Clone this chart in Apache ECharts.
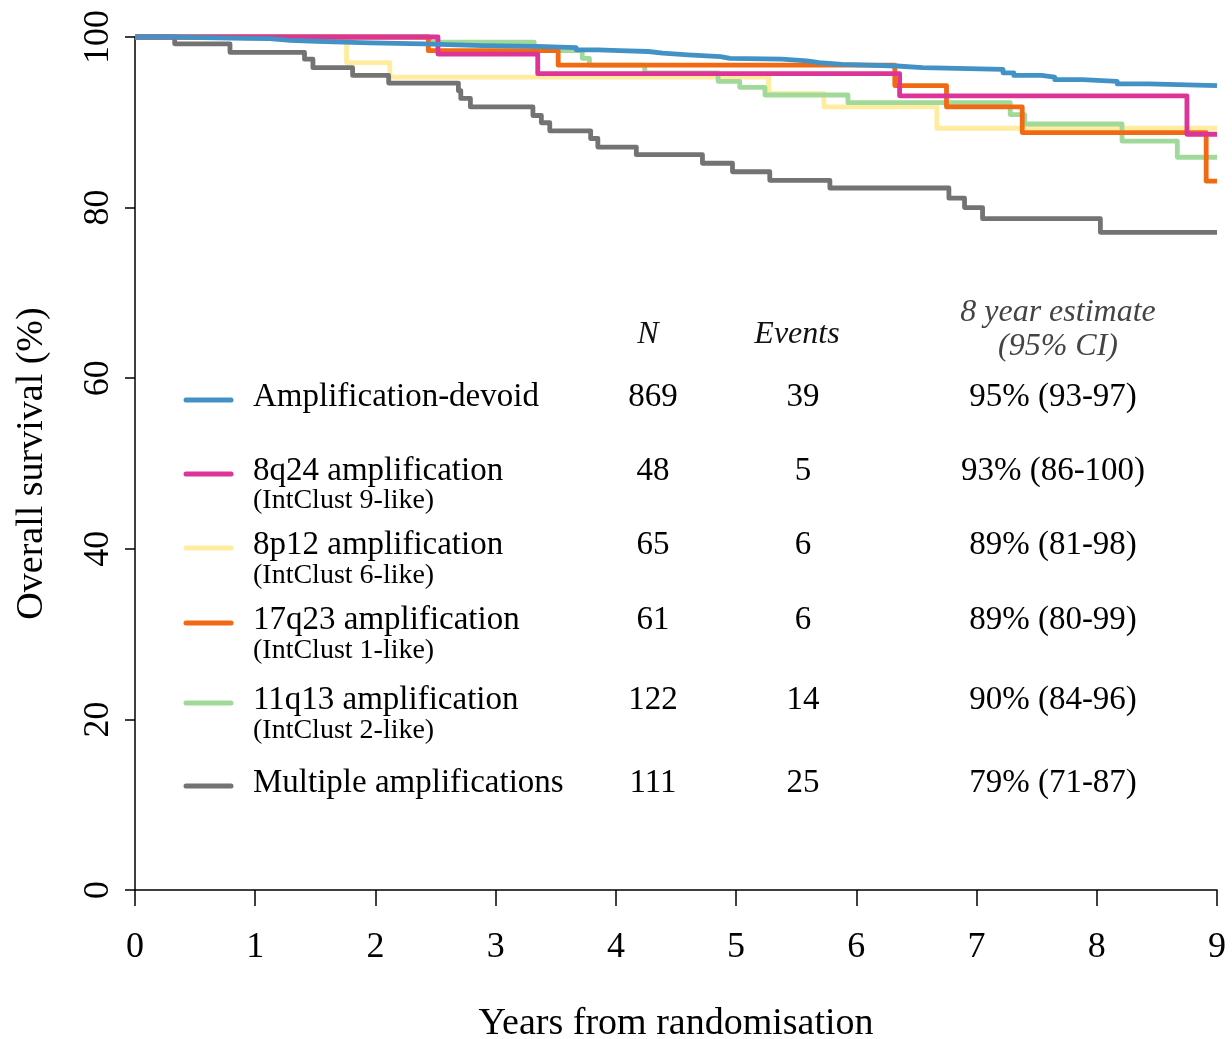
<!DOCTYPE html>
<html>
<head>
<meta charset="utf-8">
<script src="https://cdn.jsdelivr.net/npm/echarts@6/dist/echarts.min.js"></script>
<style>
html,body{margin:0;padding:0;background:#fff;}
#chart{width:1232px;height:1039px;}
</style>
</head>
<body>
<div id="chart"></div>
<script>
// ---- data (years, overall survival %) ----
const devoid = [[0,100],[0.32,99.9],[0.69,99.85],[0.93,99.8],[1.12,99.6],[1.29,99.5],[1.51,99.4],[1.73,99.3],[1.96,99.2],[2.40,99.0],[2.89,98.9],[3.34,98.75],[3.67,98.5],[3.85,98.4],[4.03,98.3],[4.27,98.1],[4.39,97.9],[4.60,97.7],[4.87,97.5],[4.95,97.4],[5.38,97.2],[5.59,97.0],[5.69,96.8],[5.88,96.6],[6.34,96.4],[6.55,96.2],[7.22,95.8],[7.31,95.5],[7.54,95.3],[7.65,95.0],[7.88,94.8],[8.17,94.5],[8.43,94.3],[9,94.3]];
const amp8q24 = [[0,100],[2.52,98.0],[3.35,95.7],[6.36,93.1],[8.75,88.6],[9,88.6]];
const amp8p12 = [[0,100],[1.76,97.0],[2.12,95.3],[5.27,93.4],[5.73,91.8],[6.67,89.3],[9,89.3]];
const amp17q23 = [[0,100],[2.44,98.4],[3.52,96.7],[6.32,94.3],[6.75,91.8],[7.38,88.8],[8.91,83.1],[9,83.1]];
const amp11q13 = [[0,100],[2.45,99.4],[3.32,98.4],[3.72,97.5],[3.78,96.7],[4.24,95.8],[4.85,94.8],[5.03,94.1],[5.24,93.2],[5.93,92.3],[7.28,90.9],[7.40,89.8],[8.21,87.8],[8.67,85.9],[9,85.9]];
const multiple = [[0,100],[0.33,99.2],[0.79,98.2],[1.41,97.4],[1.48,96.4],[1.81,95.5],[2.11,94.6],[2.69,93.7],[2.71,92.8],[2.79,91.8],[3.31,90.8],[3.38,89.95],[3.45,89.0],[3.79,88.1],[3.85,87.1],[4.17,86.2],[4.72,85.2],[4.97,84.2],[5.28,83.2],[5.78,82.3],[6.77,81.1],[6.90,80.0],[7.05,78.7],[8.03,77.1],[9,77.1]];

const xTicks = [0,1,2,3,4,5,6,7,8,9];
const yTicks = [0,20,40,60,80,100];

const groupNames = ['Amplification-devoid','8q24 amplification','8p12 amplification','17q23 amplification','11q13 amplification','Multiple amplifications'];
const groupSubs = ['','(IntClust 9-like)','(IntClust 6-like)','(IntClust 1-like)','(IntClust 2-like)',''];
const groupN = [869,48,65,61,122,111];
const groupEvents = [39,5,6,6,14,25];
const groupEstimates = ['95% (93-97)','93% (86-100)','89% (81-98)','89% (80-99)','90% (84-96)','79% (71-87)'];
const headers = ['N','Events','8 year estimate','(95% CI)'];

// ---- styles ----
const colors = ['#4292C6','#DD3497','#FFEC9E','#F16913','#A1D99B','#737373'];
const seriesData = [devoid, amp8q24, amp8p12, amp17q23, amp11q13, multiple];
const drawOrder = [2,4,5,3,1,0]; // bottom -> top
const FONT = '"Liberation Serif","Times New Roman",serif';

const rowY = [397, 471, 545, 620, 700, 783];
const subY = [null, 501, 576, 651, 731, null];

const chart = echarts.init(document.getElementById('chart'), null, {renderer:'canvas'});

const series = drawOrder.map(i => ({
  name: groupNames[i],
  type: 'line',
  step: 'end',
  data: seriesData[i],
  showSymbol: false,
  clip: false,
  lineStyle: {color: colors[i], width: 4.8, join: 'round', cap: 'butt'},
  itemStyle: {color: colors[i]},
  emphasis: {disabled: true}
}));

const graphics = [];
groupNames.forEach((g, i) => {
  graphics.push({type:'line', shape:{x1:186, y1:rowY[i]+3, x2:231, y2:rowY[i]+3},
    style:{stroke: colors[i], lineWidth: 5, lineCap:'round'}});
  graphics.push({type:'text', style:{text:g, x:253, y:rowY[i], fill:'#000', fontSize:33, fontFamily:FONT, align:'left', verticalAlign:'middle'}});
  if (groupSubs[i]) {
    graphics.push({type:'text', style:{text:groupSubs[i], x:253, y:subY[i], fill:'#000', fontSize:28, fontFamily:FONT, align:'left', verticalAlign:'middle'}});
  }
  graphics.push({type:'text', style:{text:String(groupN[i]), x:653, y:rowY[i], fill:'#000', fontSize:33, fontFamily:FONT, align:'center', verticalAlign:'middle'}});
  graphics.push({type:'text', style:{text:String(groupEvents[i]), x:803, y:rowY[i], fill:'#000', fontSize:33, fontFamily:FONT, align:'center', verticalAlign:'middle'}});
  graphics.push({type:'text', style:{text:groupEstimates[i], x:1053, y:rowY[i], fill:'#000', fontSize:33, fontFamily:FONT, align:'center', verticalAlign:'middle'}});
});
graphics.push({type:'text', style:{text:headers[0], x:648, y:335, fill:'#111', fontSize:32, fontStyle:'italic', fontFamily:FONT, align:'center', verticalAlign:'middle'}});
graphics.push({type:'text', style:{text:headers[1], x:797, y:335, fill:'#111', fontSize:32, fontStyle:'italic', fontFamily:FONT, align:'center', verticalAlign:'middle'}});
graphics.push({type:'text', style:{text:headers[2], x:1058, y:313, fill:'#444', fontSize:32, fontStyle:'italic', fontFamily:FONT, align:'center', verticalAlign:'middle'}});
graphics.push({type:'text', style:{text:headers[3], x:1058, y:347, fill:'#444', fontSize:32, fontStyle:'italic', fontFamily:FONT, align:'center', verticalAlign:'middle'}});

chart.setOption({
  animation: false,
  backgroundColor: '#fff',
  grid: {left:135, right:15, top:37, bottom:149, containLabel:false, outerBoundsMode:'none'},
  xAxis: {
    type:'value', min:0, max:9, interval:1,
    name:'Years from randomisation', nameLocation:'middle', nameGap:115,
    nameTextStyle:{color:'#000', fontSize:38, fontFamily:FONT},
    axisLine:{show:true, lineStyle:{color:'#000', width:1.5}},
    axisTick: {show:true, length:16, customValues: xTicks, lineStyle:{color:'#000', width:1.5}},
    axisLabel:{color:'#000', fontSize:36, fontFamily:FONT, margin:40,
      customValues: xTicks, formatter: v => String(v)},
    splitLine:{show:false}
  },
  yAxis: {
    type:'value', min:0, max:100, interval:20,
    name:'Overall survival (%)', nameLocation:'middle', nameGap:84, nameRotate:90,
    nameTextStyle:{color:'#000', fontSize:38, fontFamily:FONT},
    axisLine:{show:true, lineStyle:{color:'#000', width:1.5}},
    axisTick:{show:true, length:10, customValues: yTicks, lineStyle:{color:'#000', width:1.5}},
    axisLabel:{color:'#000', fontSize:36, fontFamily:FONT, margin:18, rotate:90,
      customValues: yTicks, formatter: v => String(v)},
    splitLine:{show:false}
  },
  series: series,
  graphic: graphics
});
</script>
</body>
</html>
